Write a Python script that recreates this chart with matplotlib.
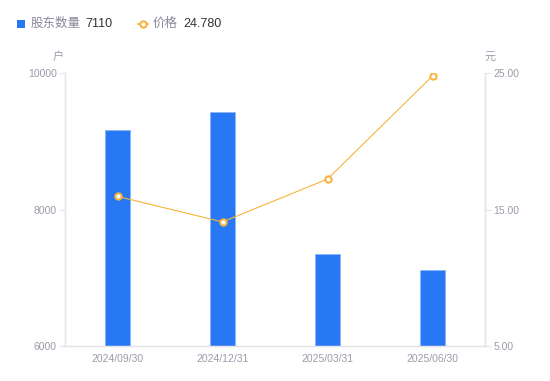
import matplotlib
matplotlib.use("Agg")
import matplotlib.pyplot as plt
from matplotlib.lines import Line2D

categories = ["2024/09/30", "2024/12/31", "2025/03/31", "2025/06/30"]
holders = [9170, 9430, 7345, 7110]
prices = [15.96, 14.09, 17.23, 24.78]
left_ticks = [6000, 8000, 10000]
right_ticks = [5, 15, 25]

FONT = ["Liberation Sans", "Noto Sans CJK SC", "DejaVu Sans"]
plt.rcParams["font.family"] = FONT

BLUE = "#2878F5"
ORANGE = "#F7B43C"
GRAY = "#9B9BAB"
AXC = "#E3E3E8"

fig = plt.figure(figsize=(5.5, 3.81), dpi=100)
ax = fig.add_axes([65/550, 35/381, 420/550, 273/381])
x = list(range(len(categories)))
ax.bar(x, holders, width=0.24, color=BLUE, edgecolor="#8DB6F7", linewidth=0.6, zorder=2)
ax.set_xlim(-0.5, len(categories) - 0.5)
ax.set_ylim(6000, 10000)
ax.set_yticks(left_ticks)
ax.set_yticklabels([str(v) for v in left_ticks])
ax.set_xticks(x)
ax.set_xticklabels(categories)
ax.tick_params(axis="x", length=0, pad=6, labelsize=7.5, labelcolor=GRAY)
ax.tick_params(axis="y", length=4, width=0.8, color=AXC, pad=2, labelsize=7.5, labelcolor=GRAY)
for s in ["top"]:
    ax.spines[s].set_visible(False)
for s in ["left", "right", "bottom"]:
    ax.spines[s].set_color(AXC)
    ax.spines[s].set_linewidth(1.0)

ax2 = ax.twinx()
ax2.plot(x, prices, color=ORANGE, linewidth=0.8, marker="o", markersize=4.5,
         markerfacecolor="white", markeredgecolor=ORANGE, markeredgewidth=1.5, zorder=3)
ax2.set_ylim(5, 25)
ax2.set_yticks(right_ticks)
ax2.set_yticklabels([f"{v:.2f}" for v in right_ticks])
ax2.tick_params(axis="y", length=4, width=0.8, color=AXC, pad=2, labelsize=7.5, labelcolor=GRAY)
ax2.spines["top"].set_visible(False)
for s in ["left", "right", "bottom"]:
    ax2.spines[s].set_color(AXC)

fig.text(58/550, 1 - 57/381, "户", ha="center", va="center", fontsize=8, color=GRAY)
fig.text(490/550, 1 - 57/381, "元", ha="center", va="center", fontsize=8, color=GRAY)

# legend
fig.patches.append(plt.Rectangle((17/550, 1 - 28/381), 8/550, 8/381, transform=fig.transFigure,
                                 facecolor=BLUE, edgecolor="none"))
fig.text(31/550, 1 - 24/381, "股东数量", ha="left", va="center", fontsize=9, color="#888899")
fig.text(85/550, 1 - 24/381, str(holders[-1]), ha="left", va="center", fontsize=9, color="#333333")
fig.lines.append(Line2D([138/550, 148/550], [1 - 24/381, 1 - 24/381], transform=fig.transFigure,
                        color=ORANGE, linewidth=1.2, marker="o", markevery=[0], markersize=0))
fig.lines.append(Line2D([143/550], [1 - 24/381], transform=fig.transFigure, color=ORANGE,
                        marker="o", markersize=4.5, markerfacecolor="white", markeredgewidth=1.5,
                        markeredgecolor=ORANGE, linestyle="none"))
fig.text(153/550, 1 - 24/381, "价格", ha="left", va="center", fontsize=9, color="#888899")
fig.text(183/550, 1 - 24/381, f"{prices[-1]:.3f}", ha="left", va="center", fontsize=9, color="#333333")

fig.savefig("out.png", dpi=100)
